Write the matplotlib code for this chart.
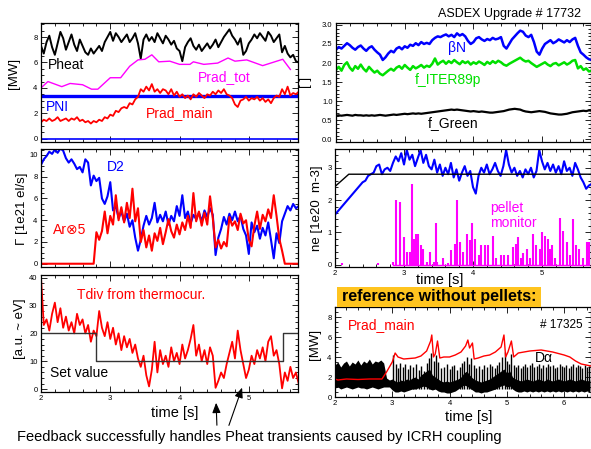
import numpy as np
import matplotlib
matplotlib.use("Agg")
import matplotlib.pyplot as plt
from matplotlib.patches import Rectangle, FancyArrowPatch
from matplotlib.ticker import MultipleLocator, FormatStrFormatter

plt.rcParams["font.family"] = ["Liberation Sans", "DejaVu Sans"]

W, H = 591, 449

T0 = 2.0
DT = 0.04

pheat = [7.3, 6.7, 7.6, 8.1, 7.2, 6.6, 7.5, 8.4, 7.9, 7.0,
         7.6, 8.2, 7.4, 6.9, 7.8, 7.3, 6.8, 6.6, 7.1, 6.7,
         7.0, 7.3, 6.9, 7.6, 8.0, 8.4, 7.7, 8.3, 8.0, 7.6,
         7.9, 8.2, 7.6, 7.9, 8.3, 7.5, 6.3, 7.8, 8.2, 7.7,
         8.0, 7.6, 8.3, 7.9, 7.5, 8.1, 7.8, 7.4, 7.7, 7.1,
         6.9, 6.1, 7.2, 7.6, 7.9, 7.3, 7.0, 7.4, 6.9, 7.2,
         7.5, 7.1, 7.4, 7.8, 7.2, 7.6, 8.0, 8.3, 8.6, 8.1,
         7.8, 7.4, 7.9, 6.6, 6.9, 7.5, 7.8, 8.2, 7.9, 8.3,
         8.0, 7.7, 8.4, 8.1, 7.6, 7.9, 8.2, 6.8, 7.3, 6.7,
         6.4, 6.6, 6.1, 6.0]
prad_main = [1.3, 1.5, 1.4, 1.6, 1.4, 1.5, 1.7, 1.4, 1.5, 1.6,
             1.4, 1.6, 1.5, 1.7, 1.4, 1.5, 1.3, 1.4, 1.2, 1.4,
             1.3, 1.5, 1.4, 1.7, 1.6, 1.9, 1.8, 2.2, 2.1, 2.4,
             2.5, 2.4, 2.8, 2.7, 3.1, 3.3, 3.9, 3.7, 4.1, 3.8,
             4.3, 3.7, 3.9, 3.6, 3.9, 3.8, 3.5, 3.9, 3.4, 3.7,
             3.3, 3.5, 3.2, 3.4, 3.1, 3.5, 3.3, 3.6, 3.4, 3.2,
             3.5, 3.4, 3.7, 3.5, 3.8, 3.6, 3.9, 3.5, 3.4, 3.2,
             2.7, 2.5, 3.0, 3.1, 3.3, 3.0, 3.2, 3.1, 3.3, 3.0,
             3.2, 2.9, 3.1, 2.8, 3.2, 3.4, 3.3, 3.9, 3.5, 4.1,
             3.4, 3.6, 3.5, 3.7]
prad_tot_t = [2.0, 2.1, 2.3, 2.42, 2.6, 2.73, 2.82, 3.0, 3.15, 3.28, 3.4, 3.5,
              3.6, 3.7, 3.86, 4.0, 4.15, 4.2, 4.35, 4.55, 4.7, 4.8, 4.97, 5.2,
              5.49, 5.6]
prad_tot = [4.0, 4.5, 4.1, 4.35, 4.25, 3.9, 3.9, 4.8, 4.8, 5.7, 6.2, 6.25,
            6.6, 6.05, 6.1, 5.85, 5.85, 6.05, 5.85, 5.95, 6.35, 6.1, 6.2, 5.75,
            6.25, 5.45]
pni_t = [2.0, 5.71]
pni = [3.33, 3.33]

d2 = [9.1, 9.6, 9.9, 10.3, 10.1, 10.5, 10.2, 10.6, 10.4, 9.7,
      9.3, 9.6, 9.2, 8.7, 8.9, 8.4, 9.6, 9.3, 7.2, 8.1,
      7.6, 7.9, 6.0, 5.5, 6.2, 7.5, 4.9, 5.3, 4.2, 4.8,
      3.9, 4.6, 3.4, 4.0, 2.4, 1.2, 2.2, 3.5, 4.4, 3.6,
      4.2, 5.6, 3.8, 4.5, 3.9, 4.8, 3.6, 4.4, 3.9, 5.3,
      4.4, 6.3, 4.2, 4.8, 3.7, 4.5, 4.1, 4.7, 3.9, 4.9,
      4.3, 5.1, 4.5, 0.8, 2.4, 3.2, 4.3, 3.6, 4.6, 4.0,
      4.8, 3.9, 4.4, 3.2, 2.6, 0.9, 3.8, 2.9, 3.5, 2.3,
      3.3, 2.6, 3.8, 2.2, 0.5, 2.8, 1.9, 3.9, 4.6, 5.3,
      4.9, 5.5, 5.1, 5.3]
ar5 = [0.0, 0.0, 0.0, 0.0, 0.0, 0.0, 0.0, 0.0, 0.0, 0.0,
       0.0, 0.0, 0.0, 0.0, 0.0, 0.0, 0.0, 0.0, 0.0, 0.0,
       2.9, 2.2, 3.0, 4.8, 2.8, 4.4, 3.6, 6.3, 4.0, 5.2,
       3.8, 5.6, 4.2, 6.9, 3.9, 5.1, 2.0, 3.1, 1.5, 2.6,
       1.2, 2.8, 2.1, 3.3, 1.8, 2.9, 4.1, 3.0, 2.4, 3.6,
       2.7, 3.8, 3.1, 4.4, 3.3, 6.5, 3.9, 4.8, 3.5, 4.7,
       3.6, 6.2, 4.2, 1.5, 2.2, 1.4, 2.0, 1.6, 4.3, 3.5,
       3.9, 3.1, 4.6, 3.7, 4.0, 2.2, 1.6, 3.5, 4.8, 3.2,
       4.5, 3.9, 5.0, 4.2, 6.3, 4.4, 2.3, 1.2, 0.0, 0.0,
       0.0, 0.0, 0.0, 0.0]

tdiv = [40, 23, 25, 21, 27, 31, 24, 29, 22, 26,
        21, 24, 20, 27, 23, 25, 20, 23, 17, 21,
        19, 28, 22, 19, 24, 18, 22, 16, 20, 14,
        19, 15, 18, 13, 16, 11, 8, 12, 5, 1,
        7, 17, 6, 14, 9, 12, 8, 15, 10, 13,
        9, 16, 11, 14, 18, 23, 12, 16, 10, 14,
        9, 15, 12, 0.5, 3, 6, 4, 9, 13, 17,
        11, 21, 14, 9, 4, 7, 12, 9, 14, 11,
        15, 10, 17, 19, 12, 14, 9, 0.3, 6, 3,
        8, 4, 6, 2]
setv_t = [2.0, 2.79, 5.49, 5.71]
setv = [20, 10, 20, 20]

beta_n = [2.35, 2.42, 2.38, 2.45, 2.52, 2.47, 2.40, 2.35, 2.42, 2.46,
          2.38, 2.32, 2.40, 2.44, 2.35, 2.28, 2.22, 2.08, 2.15, 2.25,
          2.32, 2.28, 2.38, 2.42, 2.36, 2.44, 2.40, 2.48, 2.45, 2.52,
          2.47, 2.55, 2.50, 2.53, 2.50, 2.60, 2.66, 2.70, 2.68, 2.72,
          2.75, 2.70, 2.74, 2.68, 2.78, 2.72, 2.76, 2.70, 2.58, 2.50,
          2.55, 2.65, 2.68, 2.62, 2.58, 2.63, 2.60, 2.66, 2.62, 2.64,
          2.68, 2.45, 2.38, 2.50, 2.62, 2.70, 2.78, 2.85, 2.82, 2.72,
          2.68, 2.74, 2.55, 2.30, 2.22, 2.38, 2.50, 2.55, 2.60, 2.52,
          2.56, 2.62, 2.58, 2.54, 2.60, 2.55, 2.62, 2.66, 2.45, 2.28,
          2.22, 2.15, 2.10, 2.08]
f_iter = [1.82, 1.90, 1.80, 1.95, 2.02, 1.88, 1.80, 1.92, 1.85, 1.96,
          1.85, 1.78, 1.90, 1.82, 1.75, 1.80, 1.72, 1.68, 1.74, 1.80,
          1.85, 1.80, 1.88, 1.92, 1.85, 1.95, 1.88, 1.82, 1.92, 1.86,
          1.90, 1.95, 1.88, 1.93, 1.90, 1.98, 2.12, 1.96, 2.02, 2.06,
          1.98, 2.05, 2.00, 2.08, 2.02, 1.97, 2.05, 2.00, 2.04, 1.96,
          2.02, 1.98, 2.04, 2.00, 1.95, 2.03, 1.98, 2.05, 2.00, 2.06,
          2.02, 1.96, 1.93, 1.98, 2.02, 2.06, 2.10, 2.14, 2.08, 2.04,
          2.06, 2.00, 1.95, 1.90, 1.94, 1.98, 2.02, 1.96, 1.92, 1.98,
          2.00, 1.94, 1.98, 2.02, 1.96, 2.00, 2.06, 2.08, 1.86, 1.92,
          1.82, 1.86, 1.78, 1.80]
f_green = [0.62, 0.63, 0.62, 0.63, 0.64, 0.63, 0.62, 0.64, 0.63, 0.63,
           0.62, 0.63, 0.62, 0.63, 0.62, 0.63, 0.64, 0.63, 0.62, 0.63,
           0.64, 0.65, 0.64, 0.65, 0.66, 0.67, 0.66, 0.67, 0.68, 0.67,
           0.68, 0.67, 0.68, 0.69, 0.70, 0.71, 0.72, 0.73, 0.74, 0.75,
           0.76, 0.77, 0.78, 0.77, 0.78, 0.77, 0.76, 0.75, 0.74, 0.73,
           0.74, 0.73, 0.72, 0.73, 0.72, 0.71, 0.70, 0.70, 0.71, 0.72,
           0.73, 0.74, 0.76, 0.78, 0.79, 0.80, 0.79, 0.78, 0.75, 0.73,
           0.72, 0.71, 0.72, 0.73, 0.74, 0.73, 0.72, 0.70, 0.68, 0.67,
           0.66, 0.65, 0.65, 0.66, 0.67, 0.69, 0.71, 0.72, 0.73, 0.74,
           0.75, 0.74, 0.76, 0.75]

ne = [1.55, 1.65, 1.75, 1.85, 1.95, 2.05, 2.15, 2.25, 2.35, 2.45,
      2.55, 2.60, 2.75, 2.80, 2.85, 3.05, 3.10, 2.80, 2.95, 3.00,
      2.90, 3.15, 3.35, 3.20, 3.45, 3.10, 3.55, 3.25, 3.40, 3.05,
      3.30, 3.55, 3.15, 3.40, 3.05, 2.95, 3.25, 2.85, 3.10, 2.75,
      3.00, 2.80, 3.15, 2.70, 2.95, 2.60, 2.85, 3.05, 2.75, 2.90,
      2.40, 2.20, 2.75, 3.00, 2.85, 3.10, 2.80, 2.95, 3.15, 2.90,
      2.75, 3.05, 3.55, 3.10, 2.85, 3.00, 2.75, 2.90, 2.70, 2.95,
      2.80, 3.00, 2.70, 2.90, 3.55, 3.20, 2.95, 3.15, 2.90, 3.10,
      2.85, 3.05, 2.80, 3.20, 2.90, 3.00, 2.75, 3.15, 2.95, 2.70,
      2.55, 2.35, 2.45, 2.50]
ne_ref_t = [2.0, 2.2, 5.71]
ne_ref = [2.42, 2.8, 2.8]
pellet_t = [2.10, 2.63, 2.84, 2.88, 2.94, 3.00, 3.04, 3.08, 3.12, 3.14, 3.17, 3.21,
            3.24, 3.27, 3.33, 3.37, 3.43, 3.46, 3.48, 3.57, 3.64, 3.68, 3.74, 3.77,
            3.81, 3.86, 3.91, 3.96, 3.99, 4.03, 4.08, 4.12, 4.17, 4.22, 4.29, 4.34,
            4.41, 4.45, 4.51, 4.58, 4.62, 4.65, 4.69, 4.73, 4.78, 4.82, 4.87, 4.92,
            4.97, 5.00, 5.04, 5.08, 5.12, 5.14, 5.19, 5.26, 5.31, 5.36, 5.41, 5.45,
            5.49, 5.54, 5.60, 5.65, 5.68]
pellet_h = [0.05, 0.05, 0.10, 2.00, 1.95, 0.85, 0.40, 0.40, 2.50, 0.80, 0.95, 0.95,
            0.60, 0.50, 0.10, 0.40, 0.10, 1.30, 0.10, 0.20, 0.05, 0.45, 0.65, 2.00,
            0.70, 0.40, 0.95, 0.75, 1.30, 0.80, 0.30, 0.60, 0.60, 0.60, 0.90, 0.20,
            0.30, 0.30, 0.30, 0.55, 0.65, 0.85, 0.20, 0.35, 0.50, 0.20, 0.95, 0.60,
            0.50, 1.00, 0.90, 0.80, 0.50, 0.60, 0.20, 1.45, 1.05, 0.70, 0.30, 1.40,
            0.60, 0.50, 0.20, 0.70, 0.70]

# reference shot 17325
ref_prad_t = [2.0, 2.05, 2.2, 2.4, 2.6, 2.82, 2.9, 3.0, 3.05, 3.1, 3.2, 3.4, 3.5,
              3.6, 3.67, 3.69, 3.72, 3.75, 3.79, 3.83, 3.9, 4.0, 4.1, 4.2, 4.28,
              4.32, 4.35, 4.40, 4.43, 4.5, 4.6, 4.7, 4.8, 4.9, 4.95, 4.98, 5.02,
              5.08, 5.12, 5.2, 5.4, 5.6, 5.8, 6.0, 6.1, 6.2, 6.3, 6.47]
ref_prad = [1.8, 1.7, 1.8, 1.75, 1.8, 1.8, 2.5, 3.5, 4.4, 4.0, 3.8, 3.9, 4.1,
            4.6, 5.6, 6.2, 4.0, 4.3, 5.6, 3.9, 4.0, 4.0, 4.2, 4.5, 5.1,
            5.7, 4.9, 5.4, 3.8, 3.9, 4.1, 4.2, 4.5, 5.0, 6.2, 4.0, 4.5,
            5.6, 4.0, 4.4, 4.6, 4.7, 4.5, 4.2, 4.0, 3.6, 3.3, 3.1]
da_t0, da_dt = 2.0, 0.05
da_high = [3.2, 3.5, 3.0, 3.4, 3.6, 3.1, 3.5, 3.3, 3.7, 3.2,
           3.6, 3.4, 3.8, 3.3, 3.6, 3.5, 3.7, 3.4, 1.9, 1.7,
           1.8, 1.6, 1.5, 1.7, 1.6, 1.8, 1.7, 1.9, 2.0, 1.8,
           2.2, 2.4, 2.6, 2.8, 2.2, 2.0, 1.8, 1.6, 1.5, 1.6,
           1.5, 1.6, 1.7, 1.8, 2.0, 2.4, 2.6, 2.2, 1.9, 1.7,
           1.6, 1.5, 1.6, 1.7, 1.8, 2.0, 2.2, 2.4, 2.6, 2.8,
           2.4, 2.6, 2.0, 1.8, 1.7, 1.6, 1.7, 1.8, 1.7, 1.6,
           1.7, 1.8, 1.7, 1.6, 1.8, 1.7, 1.6, 1.7, 1.8, 1.7,
           1.6, 1.7, 1.8, 1.7, 1.6, 1.7, 1.8, 1.7, 1.6, 1.7]
da_low = [0.9, 1.0, 0.8, 0.9, 1.0, 0.9, 0.8, 0.9, 1.0, 0.9,
          0.9, 0.8, 0.9, 1.0, 0.9, 0.8, 0.9, 1.0, 1.0, 1.0,
          0.7, 0.5, 0.5, 0.6, 0.5, 0.6, 0.7, 0.8, 0.8, 0.9,
          1.0, 1.1, 1.0, 0.8, 0.7, 0.8, 0.6, 0.5, 0.5, 0.4,
          0.4, 0.5, 0.6, 0.8, 1.0, 1.2, 1.1, 0.9, 0.7, 0.5,
          0.5, 0.4, 0.5, 0.5, 0.6, 0.7, 0.8, 1.0, 1.1, 1.2,
          1.0, 1.1, 0.8, 0.6, 0.5, 0.5, 0.6, 0.5, 0.6, 0.5,
          0.6, 0.5, 0.6, 0.5, 0.6, 0.5, 0.6, 0.5, 0.6, 0.5,
          0.6, 0.5, 0.6, 0.5, 0.6, 0.5, 0.6, 0.5, 0.6, 0.5]
elm_t = [3.02, 3.06, 3.10, 3.14, 3.18, 3.22, 3.27, 3.31, 3.36, 3.41, 3.46, 3.51,
         3.55, 3.60, 3.64, 3.68, 3.72, 3.76, 3.80, 3.85, 3.90, 3.95, 4.00, 4.04,
         4.08, 4.13, 4.18, 4.22, 4.26, 4.30, 4.34, 4.38, 4.42, 4.47, 4.52, 4.56,
         4.61, 4.65, 4.70, 4.74, 4.79, 4.83, 4.87, 4.92, 4.96, 5.00, 5.04, 5.08,
         5.12, 5.16, 5.20, 5.24, 5.28, 5.32, 5.36, 5.40, 5.44, 5.48, 5.52, 5.56,
         5.60, 5.64, 5.68, 5.72, 5.76, 5.80, 5.84, 5.88, 5.92, 5.96, 6.00, 6.04,
         6.08, 6.12, 6.16, 6.20, 6.24, 6.28, 6.32, 6.36, 6.40, 6.44]
elm_top = [4.2, 3.3, 2.9, 3.4, 3.0, 3.3, 2.8, 3.2, 3.0, 3.3, 2.7, 3.1,
           2.6, 3.4, 3.9, 4.4, 3.6, 4.2, 3.5, 2.9, 3.0, 3.3, 2.8, 3.1,
           3.2, 2.7, 3.0, 3.4, 3.6, 4.0, 3.3, 3.9, 3.2, 2.9, 3.1, 2.8,
           3.2, 3.0, 3.3, 3.1, 2.9, 3.2, 3.5, 4.0, 4.5, 3.6, 3.3, 4.3,
           3.2, 3.0, 3.2, 2.9, 3.1, 3.3, 3.0, 3.2, 3.4, 3.0, 3.1, 3.3,
           2.9, 3.2, 3.0, 3.3, 3.1, 3.2, 2.9, 3.0, 3.3, 3.1, 3.0, 3.2,
           2.9, 3.1, 3.3, 3.0, 3.2, 3.1, 2.9, 3.2, 3.0, 3.1]
ELM_BASE = 0.8

BLUE, RED, MAG, GREEN = "#0000ff", "#ff0000", "#ff00ff", "#00e000"


def tt(values):
    return T0 + DT * np.arange(len(values))


def px(x, y):
    return x / W, 1 - y / H


def make_axes(fig, left, top, right, bottom):
    ax = fig.add_axes([left / W, 1 - bottom / H, (right - left) / W, (bottom - top) / H])
    ax.tick_params(which="both", direction="in", top=True, right=True, labelsize=5.5, width=0.6, pad=2.5)
    ax.tick_params(which="major", length=4)
    ax.tick_params(which="minor", length=2)
    ax.xaxis.set_major_locator(MultipleLocator(1))
    ax.xaxis.set_minor_locator(MultipleLocator(0.2))
    for sp in ax.spines.values():
        sp.set_linewidth(0.9)
    return ax


def label(fig, x, y, s, color="black", size=10, **kw):
    fig.text(*px(x, y), s, color=color, fontsize=size, va="center", **kw)


fig = plt.figure(figsize=(W / 100, H / 100), dpi=100)

# top left: heating / radiation
ax1 = make_axes(fig, 41, 23, 298, 142)
ax1.plot(pni_t, pni, color=BLUE, lw=2.4)
ax1.axhline(0, color=BLUE, lw=1.2)
ax1.plot(tt(pheat), pheat, color="black", lw=1.4)
ax1.plot(prad_tot_t, prad_tot, color=MAG, lw=1.0)
ax1.plot(tt(prad_main), prad_main, color=RED, lw=1.3)
ax1.set_xlim(2, 5.71)
ax1.set_ylim(-0.25, 9.1)
ax1.yaxis.set_major_locator(MultipleLocator(2))
ax1.yaxis.set_minor_locator(MultipleLocator(0.5))
ax1.tick_params(labelbottom=False)
label(fig, 48, 65, "Pheat")
label(fig, 198, 77, "Prad_tot", MAG)
label(fig, 46, 107, "PNI", BLUE)
label(fig, 146, 113, "Prad_main", RED)
label(fig, 14, 73, "[MW]", size=9.5, rotation=90, ha="center")

# middle left: gas fluxes
ax2 = make_axes(fig, 41, 149, 298, 267)
ax2.plot(tt(d2), d2, color=BLUE, lw=1.5)
ax2.plot(tt(ar5), ar5, color=RED, lw=1.5)
ax2.set_xlim(2, 5.71)
ax2.set_ylim(-0.3, 10.55)
ax2.yaxis.set_major_locator(MultipleLocator(2))
ax2.yaxis.set_minor_locator(MultipleLocator(0.5))
ax2.tick_params(labelbottom=False)
label(fig, 107, 167, "D2", BLUE)
label(fig, 53, 230, "Ar\u22975", RED)
label(fig, 22, 209, "\u0393 [1e21 el/s]", size=9.5, rotation=90, ha="center")

# bottom left: divertor temperature
ax3 = make_axes(fig, 41, 275, 298, 392)
ax3.plot(tt(tdiv), tdiv, color=RED, lw=1.3)
ax3.step(setv_t, setv, where="post", color="0.2", lw=1.0)
ax3.set_xlim(2, 5.71)
ax3.set_ylim(-1.0, 40.9)
ax3.yaxis.set_major_locator(MultipleLocator(10))
ax3.yaxis.set_minor_locator(MultipleLocator(2))
label(fig, 77, 295, "Tdiv from thermocur.", RED)
label(fig, 50, 373, "Set value")
label(fig, 20, 329, "[a.u. ~ eV]", size=9.5, rotation=90, ha="center")
label(fig, 175, 413, "time [s]", size=10.5, ha="center")

# top right: confinement
ax4 = make_axes(fig, 336, 23, 591, 142)
ax4.plot(tt(beta_n), beta_n, color=BLUE, lw=1.8)
ax4.plot(tt(f_iter), f_iter, color=GREEN, lw=1.8)
ax4.plot(tt(f_green), f_green, color="black", lw=1.6)
ax4.set_xlim(2, 5.71)
ax4.set_ylim(-0.07, 3.05)
ax4.yaxis.set_major_locator(MultipleLocator(0.5))
ax4.yaxis.set_minor_locator(MultipleLocator(0.1))
ax4.yaxis.set_major_formatter(FormatStrFormatter("%.1f"))
ax4.tick_params(labelbottom=False)
label(fig, 448, 48, "\u03b2N", BLUE)
label(fig, 415, 80, "f_ITER89p", GREEN)
label(fig, 428, 123, "f_Green")
label(fig, 306, 82, "[ ]", size=9.5, rotation=90, ha="center")
label(fig, 438, 14, "ASDEX Upgrade # 17732", size=9)

# middle right: density and pellets
ax5 = make_axes(fig, 335, 149, 591, 267)
ax5.vlines(pellet_t, 0, pellet_h, color=MAG, lw=1.5)
ax5.plot([pellet_t[2], pellet_t[-1]], [0, 0], color=MAG, lw=1.0)
ax5.plot(tt(ne), ne, color=BLUE, lw=1.5)
ax5.plot(ne_ref_t, ne_ref, color="black", lw=1.0)
ax5.set_xlim(2, 5.71)
ax5.set_ylim(-0.07, 3.58)
ax5.yaxis.set_major_locator(MultipleLocator(1))
ax5.yaxis.set_minor_locator(MultipleLocator(0.2))
label(fig, 490, 208, "pellet", MAG)
label(fig, 490, 223, "monitor", MAG)
label(fig, 317, 208, "ne [1e20  m-3]", size=9.5, rotation=90, ha="center")
label(fig, 440, 280, "time [s]", size=10.5, ha="center")

# reference banner
fig.patches.append(Rectangle(px(337, 307), 204 / W, 20 / H, transform=fig.transFigure,
                             facecolor="#ffc41f", edgecolor="none", zorder=0))
label(fig, 439, 297, "reference without pellets:", size=11.5, ha="center", weight="bold")

# bottom right: reference shot
ax6 = make_axes(fig, 335, 307, 591, 397)
da_t = da_t0 + da_dt * np.arange(len(da_high))
ax6.fill_between(da_t, da_low, da_high, color="black", lw=0)
ax6.vlines(elm_t, ELM_BASE, elm_top, color="black", lw=1.0)
ax6.plot(ref_prad_t, ref_prad, color=RED, lw=1.0)
ax6.set_xlim(2, 6.47)
ax6.set_ylim(0, 9.0)
ax6.yaxis.set_major_locator(MultipleLocator(2))
ax6.yaxis.set_minor_locator(MultipleLocator(0.5))
label(fig, 348, 325, "Prad_main", RED)
label(fig, 540, 325, "# 17325", size=8.5)
label(fig, 535, 358, "D\u03b1")
label(fig, 315, 344, "[MW]", size=9.5, rotation=90, ha="center")
label(fig, 469, 417, "time [s]", size=10.5, ha="center")

# annotation
for tip, tail in [((216, 400), (217, 428)), ((243, 385), (228, 428))]:
    fig.add_artist(FancyArrowPatch(px(*tail), px(*tip), transform=fig.transFigure,
                                   arrowstyle="-|>,head_length=6,head_width=2.5",
                                   color="black", lw=0.8))
label(fig, 17, 437, "Feedback successfully handles Pheat transients caused by ICRH coupling", size=10.5)

fig.savefig("out.png", dpi=100)
